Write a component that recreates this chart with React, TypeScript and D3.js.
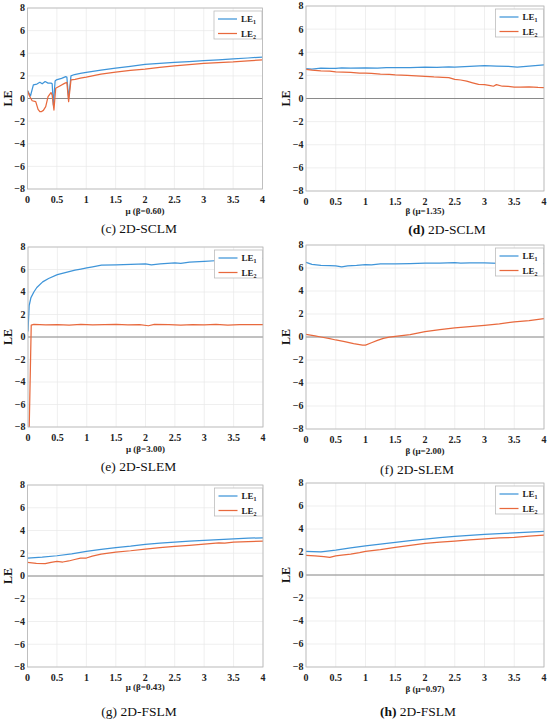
import React from "react";
import * as d3 from "d3";

type Pt = [number, number];

const X_TICKS = [0, 0.5, 1, 1.5, 2, 2.5, 3, 3.5, 4];
const Y_TICKS = [-8, -6, -4, -2, 0, 2, 4, 6, 8];
const SERIES_NAMES = ["1", "2"];

// (c) 2D-SCLM, mu sweep
const cLE1: Pt[] = [
  [0, 0.7], [0.05, 0.22], [0.1, 1.2], [0.16, 1.28], [0.21, 1.43], [0.25, 1.3], [0.3, 1.5],
  [0.35, 1.36], [0.4, 1.36], [0.42, 1.3], [0.44, -0.57], [0.47, 1.55], [0.49, 1.64], [0.58, 1.78],
  [0.65, 1.93], [0.67, 1.9], [0.7, 0.0], [0.74, 2.0], [0.8, 2.12], [0.9, 2.22], [1.0, 2.3],
  [1.25, 2.5], [1.5, 2.68], [1.75, 2.84], [2.0, 3.02], [2.25, 3.1], [2.5, 3.2], [2.75, 3.27],
  [3.0, 3.34], [3.25, 3.42], [3.5, 3.5], [3.75, 3.58], [4.0, 3.66],
];
const cLE2: Pt[] = [
  [0, 0.69], [0.04, 0.16], [0.08, -0.2], [0.14, -0.28], [0.18, -0.96], [0.21, -1.17], [0.24, -1.15],
  [0.27, -1.05], [0.31, -0.72], [0.35, 0.16], [0.4, 0.52], [0.42, 0.3], [0.45, -1.02], [0.48, 0.9],
  [0.55, 1.1], [0.63, 1.34], [0.67, 1.42], [0.7, -0.28], [0.74, 1.64], [0.81, 1.7], [0.9, 1.8],
  [1.0, 1.89], [1.25, 2.15], [1.5, 2.33], [1.75, 2.48], [2.0, 2.6], [2.25, 2.75], [2.5, 2.89],
  [2.75, 3.0], [3.0, 3.1], [3.25, 3.18], [3.5, 3.24], [3.75, 3.33], [4.0, 3.42],
];

// (d) 2D-SCLM, beta sweep
const dLE1: Pt[] = [
  [0, 2.58], [0.1, 2.55], [0.25, 2.62], [0.4, 2.6], [0.5, 2.6], [0.6, 2.64], [0.75, 2.62],
  [1.0, 2.64], [1.2, 2.62], [1.35, 2.68], [1.5, 2.66], [1.75, 2.68], [2.0, 2.72], [2.2, 2.7],
  [2.4, 2.74], [2.5, 2.72], [2.75, 2.78], [3.0, 2.84], [3.2, 2.8], [3.4, 2.78], [3.55, 2.72],
  [3.7, 2.78], [3.85, 2.84], [4.0, 2.9],
];
const dLE2: Pt[] = [
  [0, 2.52], [0.1, 2.45], [0.25, 2.38], [0.4, 2.36], [0.5, 2.3], [0.75, 2.26], [0.9, 2.2],
  [1.0, 2.2], [1.1, 2.18], [1.25, 2.1], [1.4, 2.08], [1.5, 2.04], [1.7, 2.0], [1.85, 1.96],
  [2.0, 1.92], [2.15, 1.86], [2.3, 1.82], [2.4, 1.8], [2.5, 1.65], [2.6, 1.6], [2.7, 1.5],
  [2.8, 1.36], [2.9, 1.22], [3.0, 1.2], [3.1, 1.12], [3.15, 1.06], [3.2, 1.2], [3.3, 1.06],
  [3.4, 1.04], [3.5, 0.98], [3.6, 0.98], [3.75, 1.0], [3.9, 0.96], [4.0, 0.95],
];

// (e) 2D-SLEM, mu sweep
const eLE1: Pt[] = [
  [0, 0.5], [0.02, 2.8], [0.05, 3.5], [0.1, 4.0], [0.15, 4.4], [0.25, 4.9], [0.35, 5.2],
  [0.5, 5.55], [0.6, 5.68], [0.7, 5.82], [0.8, 5.94], [0.9, 6.04], [1.0, 6.15], [1.1, 6.24],
  [1.25, 6.38], [1.5, 6.42], [1.75, 6.45], [2.0, 6.5], [2.1, 6.42], [2.25, 6.5], [2.5, 6.58],
  [2.6, 6.55], [2.75, 6.65], [3.0, 6.72], [3.25, 6.8], [3.5, 6.88], [3.75, 6.94], [4.0, 7.0],
];
const eLE2: Pt[] = [
  [0.02, -8.2], [0.055, 1.05], [0.1, 1.12], [0.3, 1.08], [0.5, 1.1], [0.7, 1.06], [0.9, 1.12],
  [1.1, 1.08], [1.3, 1.1], [1.5, 1.12], [1.7, 1.08], [1.9, 1.1], [2.05, 1.0], [2.15, 1.12],
  [2.4, 1.1], [2.6, 1.05], [2.8, 1.1], [3.0, 1.08], [3.2, 1.12], [3.4, 1.06], [3.6, 1.1],
  [3.8, 1.1], [4.0, 1.1],
];

// (f) 2D-SLEM, beta sweep
const fLE1: Pt[] = [
  [0, 6.5], [0.1, 6.32], [0.25, 6.22], [0.4, 6.2], [0.5, 6.18], [0.6, 6.1], [0.7, 6.18],
  [0.85, 6.22], [1.0, 6.3], [1.1, 6.28], [1.25, 6.36], [1.5, 6.36], [1.75, 6.38], [2.0, 6.42],
  [2.25, 6.42], [2.5, 6.46], [2.6, 6.42], [2.75, 6.44], [3.0, 6.44], [3.25, 6.4], [3.5, 6.42],
  [3.75, 6.4], [4.0, 6.38],
];
const fLE2: Pt[] = [
  [0, 0.23], [0.15, 0.1], [0.25, 0.0], [0.4, -0.15], [0.5, -0.26], [0.65, -0.4], [0.8, -0.58],
  [0.95, -0.7], [1.0, -0.7], [1.1, -0.5], [1.2, -0.3], [1.3, -0.12], [1.4, -0.02], [1.5, 0.05],
  [1.75, 0.2], [2.0, 0.46], [2.25, 0.64], [2.5, 0.8], [2.75, 0.9], [3.0, 1.02], [3.25, 1.15],
  [3.5, 1.32], [3.75, 1.42], [4.0, 1.6],
];

// (g) 2D-FSLM, mu sweep
const gLE1: Pt[] = [
  [0, 1.58], [0.25, 1.65], [0.5, 1.78], [0.75, 1.95], [1.0, 2.16], [1.25, 2.35], [1.5, 2.5],
  [1.75, 2.62], [2.0, 2.78], [2.25, 2.88], [2.5, 2.98], [2.75, 3.06], [3.0, 3.13], [3.25, 3.2],
  [3.5, 3.27], [3.75, 3.32], [4.0, 3.36],
];
const gLE2: Pt[] = [
  [0, 1.2], [0.15, 1.12], [0.3, 1.08], [0.4, 1.2], [0.5, 1.29], [0.6, 1.23], [0.7, 1.32],
  [0.8, 1.45], [0.9, 1.58], [1.0, 1.58], [1.1, 1.75], [1.25, 1.93], [1.5, 2.1], [1.75, 2.22],
  [2.0, 2.37], [2.25, 2.5], [2.5, 2.6], [2.75, 2.7], [3.0, 2.8], [3.25, 2.92], [3.35, 2.88],
  [3.5, 2.98], [3.75, 3.02], [4.0, 3.07],
];

// (h) 2D-FSLM, beta sweep
const hLE1: Pt[] = [
  [0, 2.05], [0.25, 2.02], [0.5, 2.17], [0.75, 2.35], [1.0, 2.54], [1.25, 2.68], [1.5, 2.83],
  [1.75, 2.98], [2.0, 3.12], [2.25, 3.24], [2.5, 3.35], [2.75, 3.45], [3.0, 3.53], [3.25, 3.6],
  [3.5, 3.67], [3.75, 3.73], [4.0, 3.79],
];
const hLE2: Pt[] = [
  [0, 1.7], [0.15, 1.66], [0.3, 1.6], [0.4, 1.53], [0.45, 1.6], [0.5, 1.66], [0.6, 1.72],
  [0.75, 1.82], [0.9, 1.95], [1.0, 2.05], [1.25, 2.2], [1.5, 2.4], [1.75, 2.58], [2.0, 2.75],
  [2.25, 2.85], [2.5, 2.95], [2.75, 3.05], [3.0, 3.15], [3.25, 3.22], [3.5, 3.27], [3.75, 3.37],
  [4.0, 3.47],
];

const X_LABELS = ["μ (β=0.60)", "β (μ=1.35)", "μ (β=3.00)", "β (μ=2.00)", "μ (β=0.43)", "β (μ=0.97)"];
const LETTERS = ["c", "d", "e", "f", "g", "h"];
const MODELS = ["2D-SCLM", "2D-SCLM", "2D-SLEM", "2D-SLEM", "2D-FSLM", "2D-FSLM"];
const SERIES = [
  [cLE1, cLE2],
  [dLE1, dLE2],
  [eLE1, eLE2],
  [fLE1, fLE2],
  [gLE1, gLE2],
  [hLE1, hLE2],
];

const LAYOUT = [
  { l: 27.5, r: 262.5, t: 8, b: 189, ly: 214, cx: 139, cy: 233, bold: false },
  { l: 306, r: 544, t: 6, b: 191, ly: 214, cx: 447, cy: 234, bold: true },
  { l: 28, r: 263, t: 247, b: 427, ly: 452, cx: 138.5, cy: 471, bold: false },
  { l: 306, r: 544, t: 245, b: 429, ly: 454, cx: 417, cy: 473.5, bold: false },
  { l: 27.5, r: 263, t: 485, b: 667, ly: 690, cx: 139, cy: 715.5, bold: false },
  { l: 306, r: 544, t: 483, b: 667, ly: 692, cx: 418, cy: 715.5, bold: true },
];

const SERIF = '"Liberation Serif", "Times New Roman", serif';
const COLORS = ["#3f95d9", "#e8693d"];

function Panel({ i }: { i: number }) {
  const L = LAYOUT[i];
  const x = d3.scaleLinear().domain([0, 4]).range([L.l, L.r]);
  const y = d3.scaleLinear().domain([-8, 8]).range([L.b, L.t]);
  const line = d3
    .line<Pt>()
    .x((d) => x(d[0]))
    .y((d) => y(d[1]));
  const clipId = `clip-${LETTERS[i]}`;
  const lgW = 48;
  const lgX = L.r - lgW - 0.5;
  const lgY = L.t + 3;

  return (
    <g>
      <defs>
        <clipPath id={clipId}>
          <rect x={L.l} y={L.t} width={L.r - L.l} height={L.b - L.t} />
        </clipPath>
      </defs>
      <rect x={L.l} y={L.t} width={L.r - L.l} height={L.b - L.t} fill="#fff" />
      {X_TICKS.map((t) => (
        <line key={`gx${t}`} x1={x(t)} x2={x(t)} y1={L.t} y2={L.b} stroke="#e8e8e8" strokeWidth={0.7} />
      ))}
      {Y_TICKS.map((t) => (
        <line key={`gy${t}`} x1={L.l} x2={L.r} y1={y(t)} y2={y(t)} stroke="#e8e8e8" strokeWidth={0.7} />
      ))}
      <line x1={L.l} x2={L.r} y1={y(0)} y2={y(0)} stroke="#8a8a8a" strokeWidth={1} />
      <g clipPath={`url(#${clipId})`}>
        {SERIES[i].map((s, k) => (
          <path key={k} d={line(s) ?? ""} fill="none" stroke={COLORS[k]} strokeWidth={1.25} strokeLinejoin="round" />
        ))}
      </g>
      <rect x={L.l} y={L.t} width={L.r - L.l} height={L.b - L.t} fill="none" stroke="#b4b4b4" strokeWidth={0.8} />

      {X_TICKS.map((t) => (
        <text key={`tx${t}`} x={x(t)} y={L.b + 14} textAnchor="middle" fontFamily={SERIF} fontWeight="bold" fontSize={10} fill="#222">
          {String(t)}
        </text>
      ))}
      {Y_TICKS.map((t) => (
        <text key={`ty${t}`} x={L.l - 2.5} y={y(t) + 3.4} textAnchor="end" fontFamily={SERIF} fontWeight="bold" fontSize={10} fill="#222">
          {t < 0 ? `−${-t}` : String(t)}
        </text>
      ))}
      <text
        transform={`translate(${L.l - 16},${(L.t + L.b) / 2}) rotate(-90)`}
        textAnchor="middle"
        fontFamily={SERIF}
        fontWeight="bold"
        fontSize={12}
        fill="#111"
      >
        LE
      </text>
      <text x={(L.l + L.r) / 2} y={L.ly} textAnchor="middle" fontFamily={SERIF} fontWeight="bold" fontSize={9} fill="#222">
        {X_LABELS[i]}
      </text>
      <text x={L.cx} y={L.cy} textAnchor="middle" fontFamily={SERIF} fontSize={13.5} fill="#111">
        <tspan fontWeight={L.bold ? "bold" : "normal"}>({LETTERS[i]})</tspan> {MODELS[i]}
      </text>

      <rect x={lgX} y={lgY} width={lgW} height={28} fill="#fff" stroke="#bdbdbd" strokeWidth={0.8} />
      {SERIES_NAMES.map((n, k) => {
        const ry = lgY + 8 + k * 14.5;
        return (
          <g key={n}>
            <line x1={lgX + 4} x2={lgX + 23} y1={ry} y2={ry} stroke={COLORS[k]} strokeWidth={1.25} />
            <text x={lgX + 27} y={ry + 3} fontFamily={SERIF} fontWeight="bold" fontSize={9} fill="#222">
              LE
              <tspan dy={2} fontSize={6}>
                {n}
              </tspan>
            </text>
          </g>
        );
      })}
    </g>
  );
}

export default function App() {
  return (
    <svg
      width={550}
      height={723}
      viewBox="0 0 550 723"
      style={{ position: "absolute", left: 0, top: 0, background: "#fff" }}
    >
      <rect width={550} height={723} fill="#fff" />
      {LAYOUT.map((_, i) => (
        <Panel key={i} i={i} />
      ))}
    </svg>
  );
}
